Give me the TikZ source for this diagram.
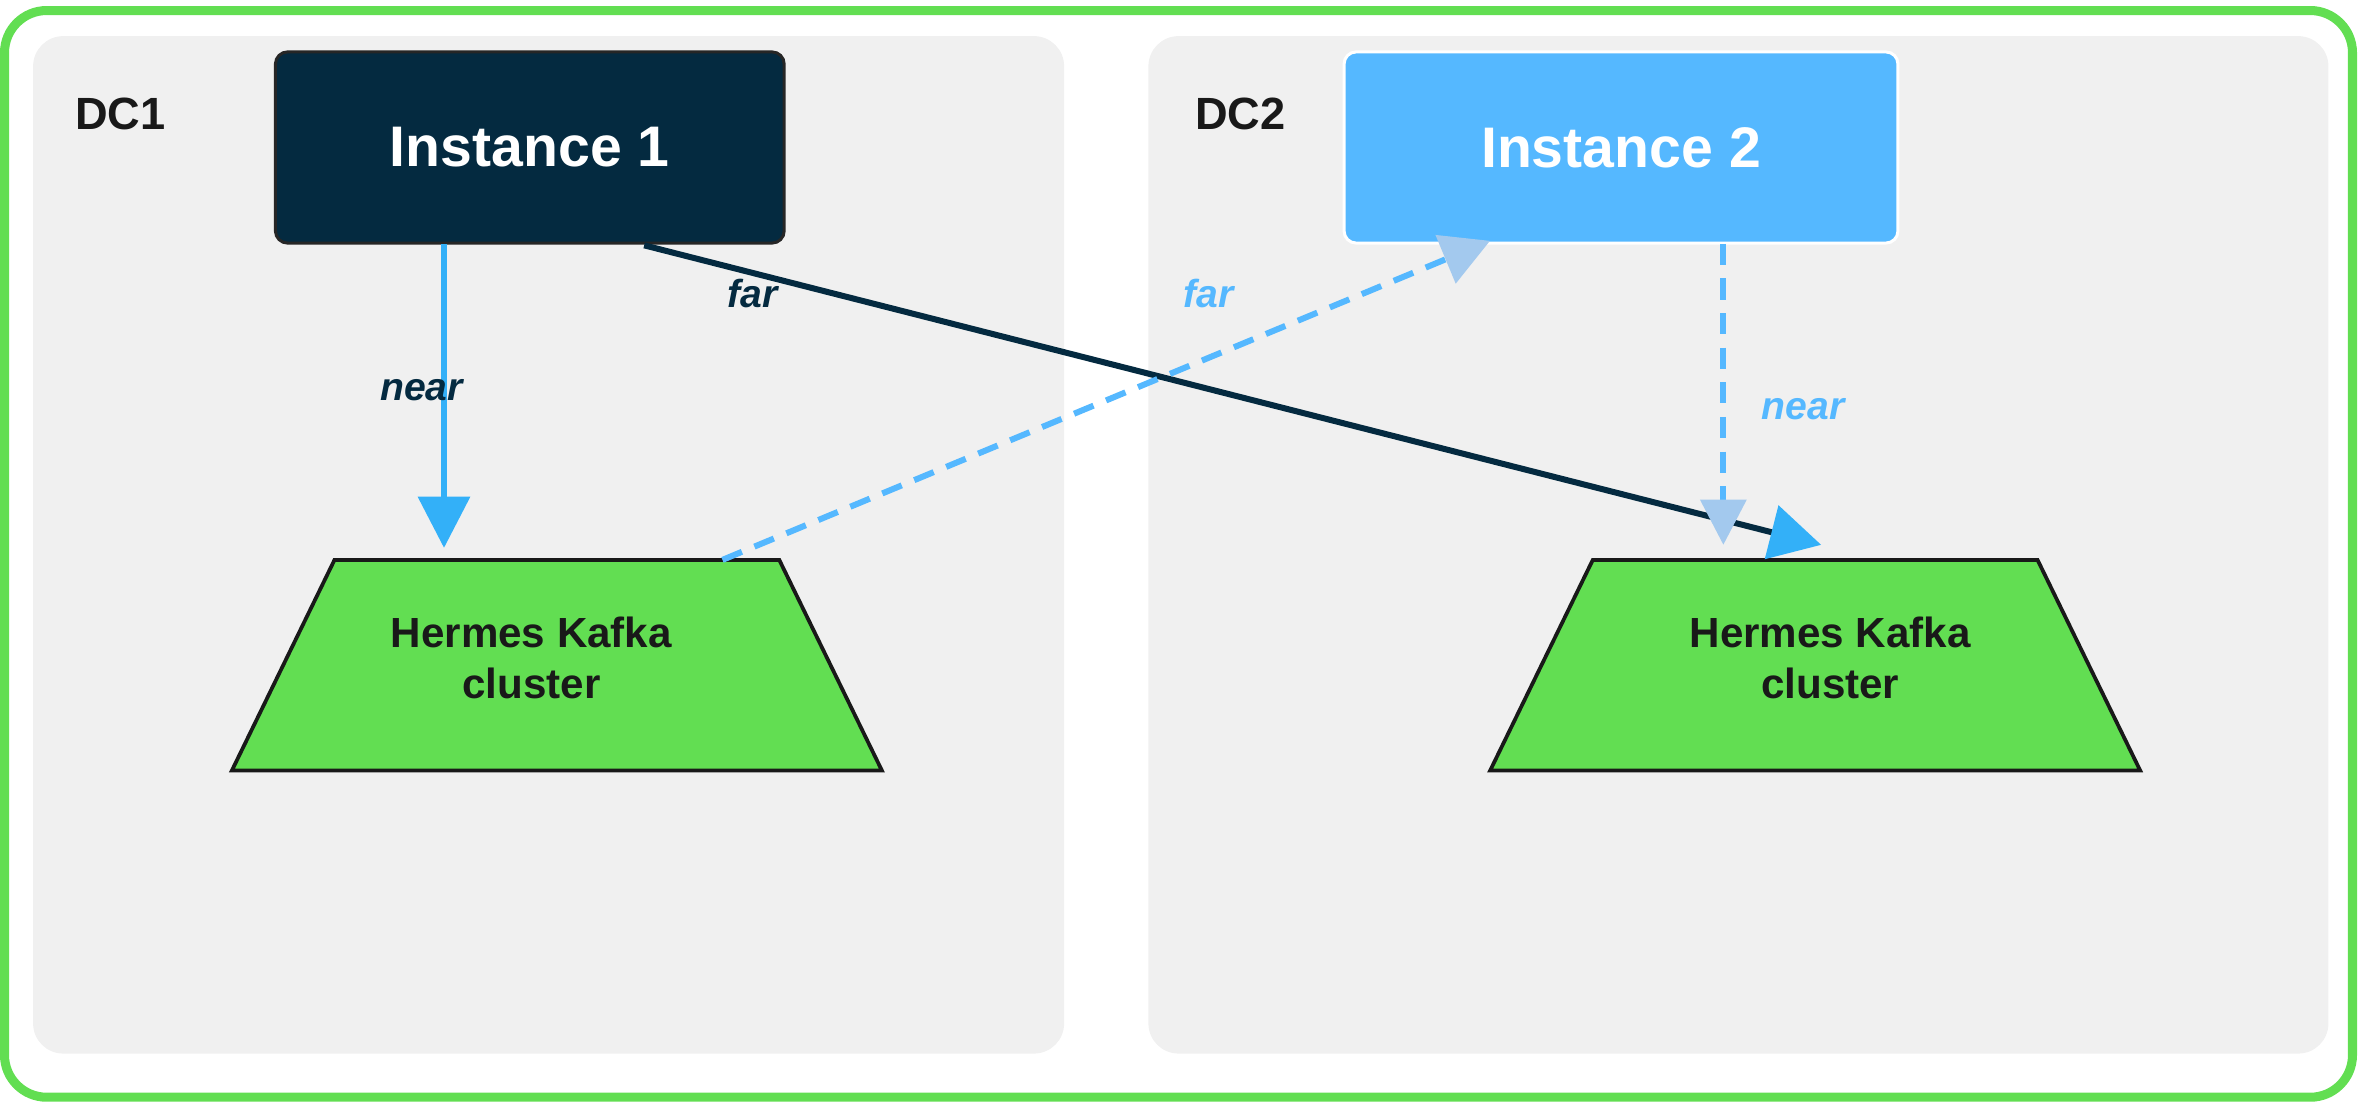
\documentclass[tikz,border=0pt]{standalone}
\usepackage{fontspec}
\setmainfont{Liberation Sans}
\usetikzlibrary{arrows.meta,shapes.geometric,positioning}
\definecolor{kgreen}{HTML}{62DE52}
\definecolor{navy}{HTML}{042A40}
\definecolor{sky}{HTML}{55B8FF}
\definecolor{bright}{HTML}{33B0F8}
\definecolor{pale}{HTML}{A3C9EE}
\definecolor{dcgray}{HTML}{F0F0F0}

\begin{document}
\begin{tikzpicture}[x=1pt, y=-1pt,
  dc/.style = {fill=dcgray, rounded corners=20pt},
  inst/.style = {rounded corners=8pt, line width=2pt, font=\bfseries\fontsize{38}{40}\selectfont, text=white, minimum width=338pt, minimum height=127pt},
  kafka/.style = {draw=black!90, fill=kgreen, line width=2.5pt, trapezium, trapezium stretches=true, trapezium angle=77, minimum width=432pt, minimum height=140pt},
  ktext/.style = {font=\bfseries\fontsize{28}{34}\selectfont, align=center, text=black!90},
  lbl/.style = {font=\bfseries\itshape\fontsize{26}{28}\selectfont}]
\useasboundingbox (0,0) rectangle (1568,735);

\node[draw=kgreen, line width=6pt, rounded corners=28pt, minimum width=1560pt, minimum height=722pt] (outer) at (783,368) {};
\fill[dc] (22,24) rectangle (707,700);
\fill[dc] (763,24) rectangle (1547,700);
\node[font=\bfseries\fontsize{30}{32}\selectfont, text=black!90] (dc1) at (80,76) {DC1};
\node[font=\bfseries\fontsize{30}{32}\selectfont, text=black!90] (dc2) at (824,76) {DC2};

\node[inst, draw=black!85, fill=navy] (inst1) at (352,98) {Instance 1};
\node[inst, draw=white, fill=sky, minimum width=368pt] (inst2) at (1077,98) {Instance 2};

\node[kafka] (kafka1) at (370,442) {};
\node[kafka] (kafka2) at (1206,442) {};
\node[ktext] (kt1) at (353,437) {Hermes Kafka\\cluster};
\node[ktext] (kt2) at (1216,437) {Hermes Kafka\\cluster};

\coordinate (n1s) at (295,162);
\coordinate (n1e) at (295,364);
\coordinate (f1s) at (428,163);
\coordinate (f1e) at (1210,362);
\coordinate (f2s) at (480,372);
\coordinate (f2e) at (990,160);
\coordinate (n2s) at (1145,162);
\coordinate (n2e) at (1145,362);

\draw[bright, line width=4pt, -{Triangle[length=34pt, width=34pt]}] (n1s) -- (n1e);
\draw[navy, line width=4pt, -{Triangle[length=34pt, width=36pt, color=bright]}] (f1s) -- (f1e);
\draw[sky, line width=4pt, dash pattern=on 14pt off 9pt, -{Triangle[length=32pt, width=34pt, color=pale]}] (f2s) -- (f2e);
\draw[sky, line width=4pt, dash pattern=on 14pt off 9pt, -{Triangle[length=30pt, width=30pt, color=pale]}] (n2s) -- (n2e);

\node[lbl, text=navy] (lnear1) at (280,259) {near};
\node[lbl, text=navy] (lfar1) at (500,195) {far};
\node[lbl, text=sky] (lfar2) at (803,195) {far};
\node[lbl, text=sky] (lnear2) at (1198,272) {near};
\end{tikzpicture}
\end{document}
